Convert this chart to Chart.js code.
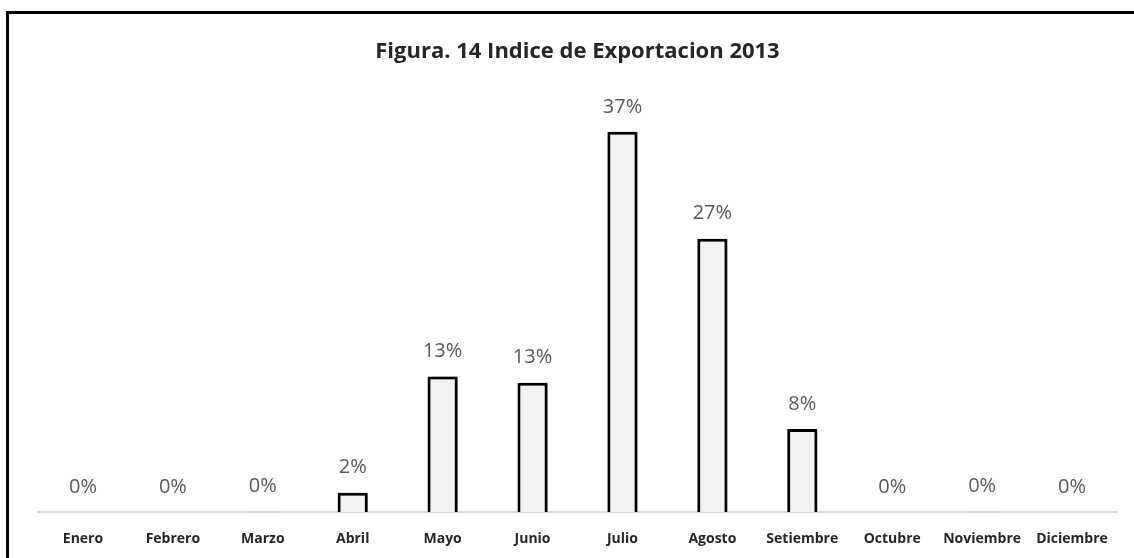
<!DOCTYPE html>
<html>
<head>
<meta charset="utf-8">
<script src="https://cdn.jsdelivr.net/npm/chart.js@4/dist/chart.umd.min.js"></script>
<style>
    html, body { margin: 0; padding: 0; background: #fff; overflow: hidden; }
    #marco {
        position: absolute; left: 6px; top: 11px; width: 1300px; height: 700px;
        border-left: 3px solid #000; border-top: 3px solid #000;
    }
    #exportChart { position: absolute; left: 0; top: 0; }
</style>
</head>
<body>
<div id="marco"></div>
<canvas id="exportChart" width="1134" height="558"></canvas>
<script>
// Datos
const meses = ['Enero', 'Febrero', 'Marzo', 'Abril', 'Mayo', 'Junio', 'Julio', 'Agosto', 'Setiembre', 'Octubre', 'Noviembre', 'Diciembre'];
const indiceExportacion = [0, 0, 0.1, 1.9, 13.2, 12.6, 37, 26.6, 8.1, 0, 0.1, 0];
const titulo = 'Figura. 14 Indice de Exportacion 2013';

// Sombra suave detrás de las barras
const sombraBarras = {
    id: 'sombraBarras',
    beforeDatasetsDraw(chart) {
        const c = chart.ctx;
        c.save();
        c.shadowColor = 'rgba(0, 0, 0, 0.5)';
        c.shadowBlur = 6;
        c.shadowOffsetX = 2;
        c.shadowOffsetY = 1;
    },
    afterDatasetsDraw(chart) {
        chart.ctx.restore();
    }
};

// Etiquetas de porcentaje encima de cada barra
const etiquetasValor = {
    id: 'etiquetasValor',
    afterDraw(chart) {
        const c = chart.ctx;
        const meta = chart.getDatasetMeta(0);
        c.save();
        c.font = '20px "Open Sans"';
        c.fillStyle = '#595959';
        c.textAlign = 'center';
        c.textBaseline = 'middle';
        meta.data.forEach((bar, i) => {
            const v = chart.data.datasets[0].data[i];
            c.fillText(Math.round(v) + '%', bar.x, bar.y - 25);
        });
        c.restore();
    }
};

document.addEventListener('DOMContentLoaded', () => {
    const ctx = document.getElementById('exportChart');
    new Chart(ctx, {
        type: 'bar',
        data: {
            labels: meses,
            datasets: [{
                label: 'Indice de Exportacion',
                data: indiceExportacion,
                backgroundColor: '#f2f2f2',
                borderColor: (c) => (c.raw < 0.5 ? '#d9d9d9' : '#000000'),
                borderWidth: 3,
                barPercentage: 0.335,
                categoryPercentage: 1
            }]
        },
        options: {
            responsive: false,
            animation: false,
            layout: { padding: { left: 38, right: 17, top: 0, bottom: -7 } },
            scales: {
                x: {
                    grid: { display: false, drawTicks: false },
                    border: { display: true, color: '#d9d9d9', width: 2 },
                    ticks: {
                        color: '#262626',
                        padding: 18,
                        maxRotation: 0,
                        autoSkip: false,
                        font: { family: 'Open Sans', size: 14, weight: 'bold' }
                    }
                },
                y: {
                    display: false,
                    min: 0,
                    max: 42
                }
            },
            plugins: {
                legend: { display: false },
                tooltip: { enabled: false },
                title: {
                    display: true,
                    text: titulo,
                    color: '#262626',
                    font: { family: 'Open Sans', size: 22, weight: 'bold' },
                    padding: { top: 39, bottom: 15 }
                }
            }
        },
        plugins: [sombraBarras, etiquetasValor]
    });
});
</script>
</body>
</html>
